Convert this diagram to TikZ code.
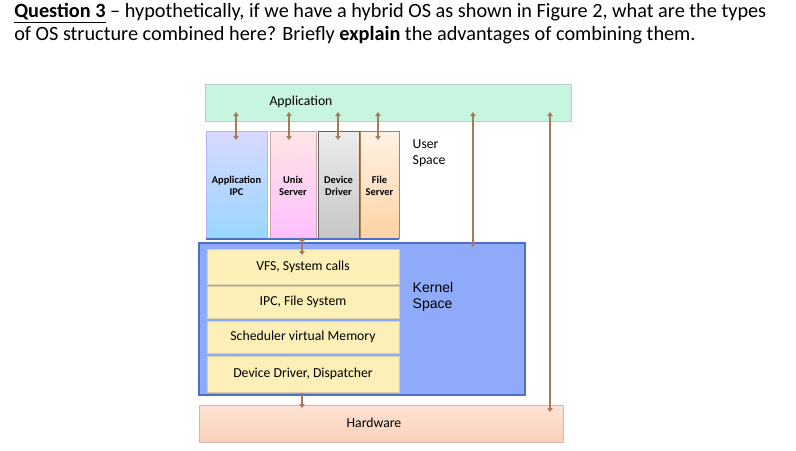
\documentclass[tikz,border=0pt]{standalone}
\usepackage{fontspec}
\setmainfont{Carlito}
\newfontfamily\arialf{Liberation Sans}
\usetikzlibrary{arrows.meta}
\definecolor{arr}{HTML}{A87A5A}
\definecolor{appg}{HTML}{C8F5E0}
\definecolor{kblue}{HTML}{8EAAF8}
\definecolor{kbord}{HTML}{4D6FC8}
\definecolor{ylw}{HTML}{FCEFB8}
\definecolor{hw}{HTML}{FAD0B8}
\begin{document}
\begin{tikzpicture}[x=0.75pt,y=-0.75pt,
  con/.style={draw=arr, line width=1.1pt, {Triangle[length=3pt,width=4pt]}-{Triangle[length=3pt,width=4pt]}},
  con1/.style={draw=arr, line width=1.1pt, -{Triangle[length=3pt,width=4pt]}},
  lab/.style={font=\fontsize{10.3pt}{12pt}\selectfont, align=center},
  blab/.style={font=\bfseries\fontsize{7.8pt}{9.5pt}\selectfont, align=center}]
\useasboundingbox (0,0) rectangle (796,450);
\node[anchor=north west, align=left, font=\fontsize{15.2pt}{17.3pt}\selectfont, inner sep=0] (q) at (14,3)
 {\textbf{\underline{Question 3}} -- hypothetically, if we have a hybrid OS as shown in Figure 2, what are the types\\
 of OS structure combined here? Briefly \textbf{explain} the advantages of combining them.};
% application
\fill[appg, draw=appg!70!gray] (205,84) rectangle (571,121);
\node[lab] (app) at (301,102) {Application};
% servers
\fill[top color=blue!15, bottom color=blue!40!cyan!40, draw=blue!30] (206,131) rectangle (267,238);
\fill[top color=pink!40, bottom color=magenta!25, draw=pink!60!gray] (270,131) rectangle (316,238);
\fill[top color=gray!15, bottom color=gray!45, draw=gray!80!black] (318,131) rectangle (359,238);
\fill[top color=orange!10, bottom color=orange!35, draw=orange!40!gray] (360,131) rectangle (399,238);
\draw[kbord, line width=2pt] (206,239) -- (399,239);
\node[blab] (ipc) at (236.5,186) {Application\\IPC};
\node[blab] (unix) at (293,186) {Unix\\Server};
\node[blab] (dev) at (338.5,186) {Device\\Driver};
\node[blab] (file) at (379.5,186) {File\\Server};
\node[lab, align=left, anchor=west] (us) at (408,153) {User\\Space};
% kernel
\fill[kblue, draw=kbord, line width=1.5pt] (199,243) rectangle (525,395);
\foreach \n/\a/\b/\t in {l1/249/284/{VFS, System calls}, l2/286/318/{IPC, File System}, l3/321/353/{Scheduler virtual Memory}, l4/356/392/{Device Driver, Dispatcher}}{
  \fill[ylw, draw=ylw!70!gray] (207,\a) rectangle (399,\b);
  \node[lab] (\n) at (303,{(\a+\b)/2}) {\t};
}
\node[align=left, anchor=west, font=\arialf\fontsize{10.5pt}{12pt}\selectfont] (ks) at (408,297) {Kernel\\Space};
% hardware
\fill[top color=hw!60, bottom color=hw, draw=hw!70!gray] (199,405) rectangle (563,442);
\node[lab] (hwl) at (374,423) {Hardware};
% connectors
\coordinate (a1) at (236,112); \coordinate (b1) at (236,140);
\coordinate (a2) at (289,112); \coordinate (b2) at (289,140);
\coordinate (a3) at (338,112); \coordinate (b3) at (338,140);
\coordinate (a4) at (378,112); \coordinate (b4) at (378,140);
\coordinate (a5) at (473,112); \coordinate (b5) at (473,247);
\coordinate (a6) at (550,112); \coordinate (b6) at (550,412);
\coordinate (u1) at (302,237); \coordinate (u2) at (302,255);
\coordinate (d1) at (302,393); \coordinate (d2) at (302,408);
\foreach \i in {1,...,6} \draw[con] (a\i) -- (b\i);
\draw[con] (u1) -- (u2);
\draw[con1] (d1) -- (d2);
\end{tikzpicture}
\end{document}
